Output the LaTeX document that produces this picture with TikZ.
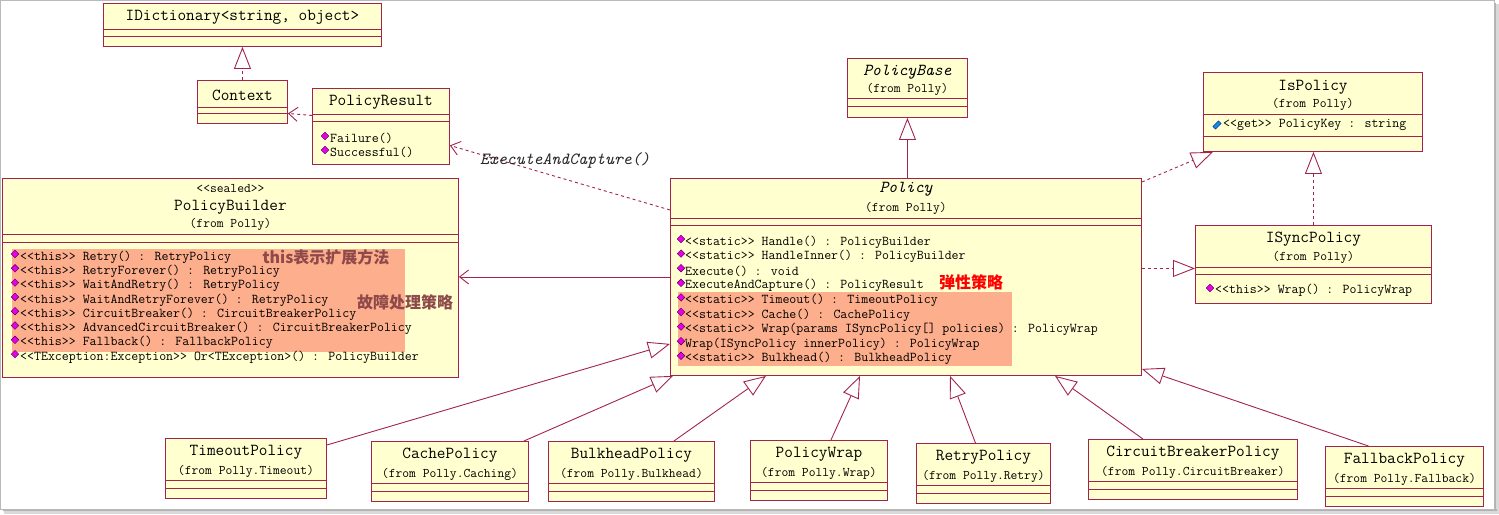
\documentclass[tikz,border=0pt]{standalone}
\usepackage{fontspec}
\newfontfamily\cjkfont{Noto Sans CJK SC}
\usetikzlibrary{arrows.meta,calc}
\definecolor{UmlLine}{HTML}{A3234F}
\definecolor{UmlFill}{HTML}{FFFFCF}
\definecolor{UmlMark}{HTML}{FDAE8C}
\definecolor{UmlNote}{HTML}{8E4A4A}
\definecolor{UmlIcon}{HTML}{E800E8}
\newcommand\compline[2]{\draw[compart] ([yshift=-#2pt]#1.north west) -- ([yshift=-#2pt]#1.north east);}

\begin{document}
\begin{tikzpicture}[x=1pt, y=-1pt,
  cls/.style={rectangle, draw=UmlLine, fill=UmlFill, line width=0.9pt, inner sep=0pt, anchor=north west},
  compart/.style={draw=UmlLine, line width=0.9pt},
  cname/.style={font=\ttfamily\fontsize{16.8}{18}\selectfont, inner sep=0pt},
  aname/.style={font=\ttfamily\itshape\fontsize{16.8}{18}\selectfont, inner sep=0pt},
  cfrom/.style={font=\ttfamily\fontsize{13.2}{15}\selectfont, inner sep=0pt},
  member/.style={font=\ttfamily\fontsize{13.5}{15}\selectfont, inner sep=0pt, anchor=west},
  meth/.style={rectangle, rotate=45, fill=UmlIcon, draw=violet!60!black, line width=0.4pt, minimum size=5.4pt, inner sep=0pt},
  prop/.style={rectangle, rotate=45, fill=cyan!80!blue, draw=blue!60!black, line width=0.4pt, minimum width=8pt, minimum height=3.8pt, inner sep=0pt},
  cnote/.style={font=\cjkfont\bfseries\fontsize{16}{18}\selectfont, inner sep=0pt, text=UmlNote},
  hilite/.style={fill=UmlMark},
  implements/.style={UmlLine, line width=0.9pt, dash pattern=on 3pt off 3pt, -{Triangle[open, length=22pt, width=17pt]}},
  inherits/.style={UmlLine, line width=0.9pt, -{Triangle[open, length=22pt, width=17pt]}},
  uses/.style={UmlLine, line width=0.9pt, dash pattern=on 3pt off 3pt, -{Straight Barb[length=9pt, width=14pt]}},
  navig/.style={UmlLine, line width=0.9pt, -{Straight Barb[length=9pt, width=14pt]}},
  lbl/.style={font=\ttfamily\itshape\fontsize{17}{19}\selectfont, inner sep=0pt, text=black!85}
]
\useasboundingbox (0,0) rectangle (1499,514);
% screenshot frame
\fill[gray!30] (4,511) rectangle (1499,514);
\fill[gray!30] (1496,4) rectangle (1499,514);
\fill[gray!60] (3,509) rectangle (1497,511);
\fill[gray!60] (1494,3) rectangle (1496,511);
\draw[gray!55, line width=0.8pt] (0.5,0.5) rectangle (1494,509);

% top left classes
\node[cls, minimum width=278pt, minimum height=43pt] (idic) at (103,3) {};
\compline{idic}{26}\compline{idic}{33}
\node[cname] (idic-n) at ([yshift=-14pt]idic.north) {IDictionary<string, object>};

\node[cls, minimum width=90pt, minimum height=43pt] (ctx) at (197,80) {};
\compline{ctx}{27}\compline{ctx}{33}
\node[cname] (ctx-n) at ([yshift=-15pt]ctx.north) {Context};

\node[cls, minimum width=137pt, minimum height=76pt] (pres) at (312,88) {};
\compline{pres}{26}\compline{pres}{33}
\node[cname] (pres-n) at ([yshift=-14pt]pres.north) {PolicyResult};
\node[meth] (prm1) at (325,136) {};
\node[member] (prt1) at (330,138) {Failure()};
\node[meth] (prm2) at (325,150) {};
\node[member] (prt2) at (330,152) {Successful()};

% base class and interfaces
\node[cls, minimum width=120pt, minimum height=59pt] (pbase) at (847,58) {};
\compline{pbase}{40}\compline{pbase}{48}
\node[aname] (pbase-n) at ([yshift=-14pt]pbase.north) {PolicyBase};
\node[cfrom] (pbase-f) at ([yshift=-31pt]pbase.north) {(from Polly)};

\node[cls, minimum width=219pt, minimum height=79pt] (ispol) at (1203,72) {};
\compline{ispol}{42}\compline{ispol}{64}
\node[cname] (ispol-n) at ([yshift=-15pt]ispol.north) {IsPolicy};
\node[cfrom] (ispol-f) at ([yshift=-32pt]ispol.north) {(from Polly)};
\node[prop] (ispm1) at (1217,125) {};
\node[member] (ispt1) at (1223,125) {<<get>> PolicyKey : string};

\node[cls, minimum width=236pt, minimum height=78pt] (isync) at (1195,225) {};
\compline{isync}{42}\compline{isync}{49}
\node[cname] (isync-n) at ([yshift=-14pt]isync.north) {ISyncPolicy};
\node[cfrom] (isync-f) at ([yshift=-32pt]isync.north) {(from Polly)};
\node[meth] (isym1) at (1210,288) {};
\node[member] (isyt1) at (1215,290) {<<this>> Wrap() : PolicyWrap};

% PolicyBuilder
\node[cls, minimum width=456pt, minimum height=199pt] (pbld) at (2,178) {};
\compline{pbld}{56}\compline{pbld}{64}
\node[cfrom] (pbld-s) at ([yshift=-11pt]pbld.north) {<<sealed>>};
\node[cname] (pbld-n) at ([yshift=-29pt]pbld.north) {PolicyBuilder};
\node[cfrom] (pbld-f) at ([yshift=-46pt]pbld.north) {(from Polly)};
\fill[hilite] (12,249) rectangle (405,352);
\foreach \txt [count=\i] in {<<this>> Retry() : RetryPolicy, <<this>> RetryForever() : RetryPolicy,
    <<this>> WaitAndRetry() : RetryPolicy, <<this>> WaitAndRetryForever() : RetryPolicy,
    <<this>> CircuitBreaker() : CircuitBreakerPolicy, <<this>> AdvancedCircuitBreaker() : CircuitBreakerPolicy,
    <<this>> Fallback() : FallbackPolicy, <<TException:Exception>> Or<TException>() : PolicyBuilder}{
  \node[meth] (pbm\i) at (15, {254+14.3*(\i-1)}) {};
  \node[member] (pbt\i) at (20, {257+14.3*(\i-1)}) {\txt};
}
\node[cnote] (pb-note1) at (326,257) {this表示扩展方法};
\node[cnote] (pb-note2) at (405,302) {故障处理策略};

% Policy
\node[cls, minimum width=471pt, minimum height=197pt] (pol) at (670,178) {};
\compline{pol}{40}\compline{pol}{47}
\node[aname] (pol-n) at ([yshift=-11pt]pol.north) {Policy};
\node[cfrom] (pol-f) at ([yshift=-30pt]pol.north) {(from Polly)};
\fill[hilite] (678,292) rectangle (1012,366);
\foreach \txt [count=\i] in {<<static>> Handle() : PolicyBuilder, <<static>> HandleInner() : PolicyBuilder,
    Execute() : void, ExecuteAndCapture() : PolicyResult, <<static>> Timeout() : TimeoutPolicy,
    <<static>> Cache() : CachePolicy, {<<static>> Wrap(params ISyncPolicy[] policies) : PolicyWrap},
    {Wrap(ISyncPolicy innerPolicy) : PolicyWrap}, <<static>> Bulkhead() : BulkheadPolicy}{
  \node[meth] (plm\i) at (681, {239+14.6*(\i-1)}) {};
  \node[member] (plt\i) at (685, {242+14.6*(\i-1)}) {\txt};
}
\node[cnote, text=red] (pol-note) at (971,282) {弹性策略};

% concrete policies
\foreach \nm/\x/\y/\w/\cn/\ns in {tmo/165/438/161/TimeoutPolicy/Timeout, cch/371/441/157/CachePolicy/Caching,
    blk/548/441/166/BulkheadPolicy/Bulkhead, pwr/750/440/137/PolicyWrap/Wrap, rty/916/443/134/RetryPolicy/Retry,
    cbk/1088/439/209/CircuitBreakerPolicy/CircuitBreaker, fbk/1325/446/158/FallbackPolicy/Fallback}{
  \node[cls, minimum width=\w pt, minimum height=60pt] (\nm) at (\x,\y) {};
  \compline{\nm}{42}\compline{\nm}{50}
  \node[cname] (\nm-n) at ([yshift=-14pt]\nm.north) {\cn};
  \node[cfrom] (\nm-f) at ([yshift=-33pt]\nm.north) {(from Polly.\ns)};
}

% connectors
\coordinate (isyncIn) at ([yshift=-4pt]isync.west);
\draw[implements] (ctx.north) -- (ctx.north |- idic.south);
\draw[uses] ([yshift=11pt]pres.west) -- ([yshift=-11.5pt]ctx.east);
\draw[uses] ([yshift=-32pt]pol.north west) -- node[lbl, midway, above=9pt, xshift=5pt] (eac) {ExecuteAndCapture()} ([yshift=-19pt]pres.east);
\draw[inherits] (pbase.south |- pol.north) -- (pbase.south);
\draw[implements] ([yshift=-4pt]pol.north east) -- ([xshift=10pt]ispol.south west);
\draw[implements] (isync.north) -- (isync.north |- ispol.south);
\draw[implements] (isyncIn -| pol.east) -- (isyncIn);
\draw[navig] (pol.west) -- (pol.west -| pbld.east);
\draw[inherits] ([yshift=-7pt]tmo.north east) -- ([yshift=32pt]pol.south west);
\draw[inherits] ([xshift=-5pt]cch.north east) -- ([xshift=3pt]pol.south west);
\draw[inherits] ([xshift=-41pt]blk.north east) -- ([xshift=96pt]pol.south west);
\draw[inherits] ([xshift=12pt]pwr.north) -- ([xshift=190pt]pol.south west);
\draw[inherits] ([xshift=-8pt]rty.north) -- ([xshift=280pt]pol.south west);
\draw[inherits] ([xshift=-50pt]cbk.north) -- ([xshift=385pt]pol.south west);
\draw[inherits] ([xshift=-36pt]fbk.north) -- ([yshift=7pt]pol.south east);
\end{tikzpicture}
\end{document}
